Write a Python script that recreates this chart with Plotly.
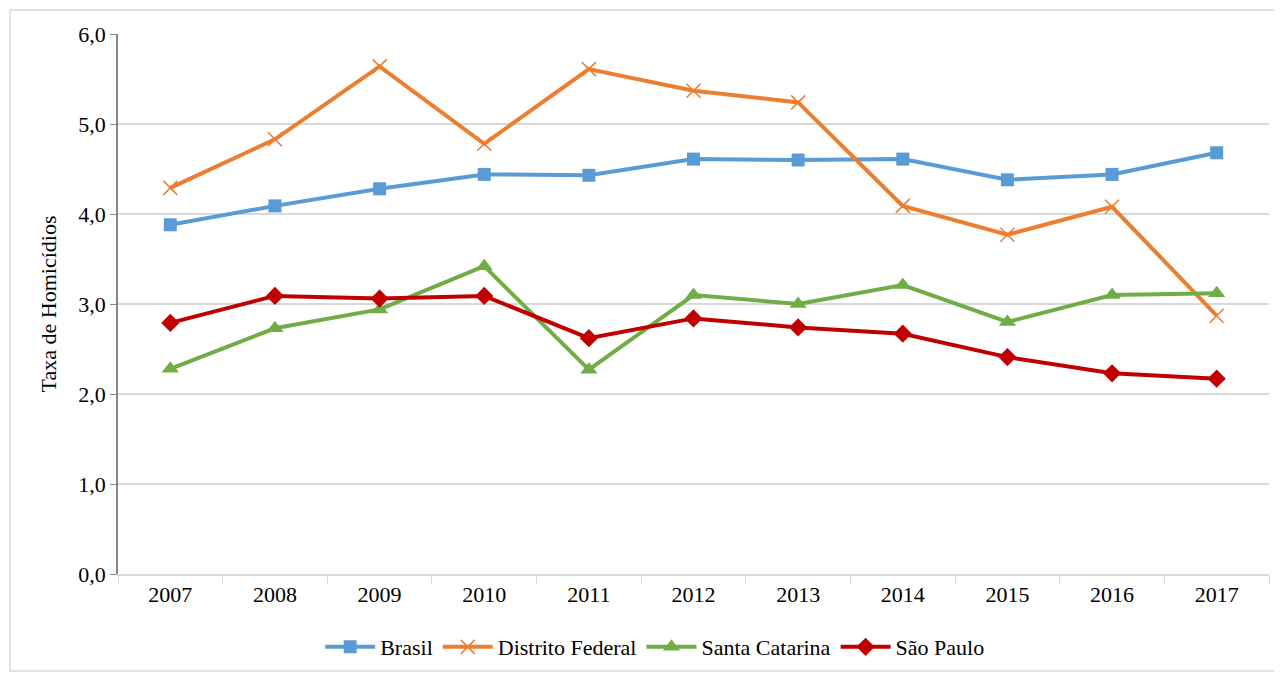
import plotly.graph_objects as go

years = ["2007", "2008", "2009", "2010", "2011", "2012", "2013", "2014", "2015", "2016", "2017"]
brasil = [3.88, 4.09, 4.28, 4.44, 4.43, 4.61, 4.60, 4.61, 4.38, 4.44, 4.68]
distrito_federal = [4.29, 4.83, 5.64, 4.78, 5.61, 5.37, 5.24, 4.09, 3.77, 4.08, 2.87]
santa_catarina = [2.28, 2.73, 2.94, 3.42, 2.27, 3.10, 3.00, 3.21, 2.80, 3.10, 3.12]
sao_paulo = [2.79, 3.09, 3.06, 3.09, 2.62, 2.84, 2.74, 2.67, 2.41, 2.23, 2.17]
y_ticks = [0, 1, 2, 3, 4, 5, 6]

FONT = "Liberation Serif"

fig = go.Figure()
fig.add_trace(go.Scatter(x=years, y=brasil, name="Brasil", mode="lines+markers",
                         line=dict(color="#5B9BD5", width=4),
                         marker=dict(symbol="square", size=13, color="#5B9BD5")))
fig.add_trace(go.Scatter(x=years, y=distrito_federal, name="Distrito Federal", mode="lines+markers",
                         line=dict(color="#ED7D31", width=4),
                         marker=dict(symbol="x-thin-open", size=14, color="#ED7D31",
                                     line=dict(color="#ED7D31", width=1.5))))
fig.add_trace(go.Scatter(x=years, y=santa_catarina, name="Santa Catarina", mode="lines+markers",
                         line=dict(color="#70AD47", width=4),
                         marker=dict(symbol="triangle-up", size=15, color="#70AD47")))
fig.add_trace(go.Scatter(x=years, y=sao_paulo, name="São Paulo", mode="lines+markers",
                         line=dict(color="#C00000", width=4),
                         marker=dict(symbol="diamond", size=14, color="#C00000")))

fig.update_layout(
    width=1274, height=665,
    margin=dict(l=110, r=13, t=26, b=99, autoexpand=False),
    paper_bgcolor="white", plot_bgcolor="white",
    separators=", ",
    font=dict(family=FONT, size=22, color="#000000"),
    showlegend=True,
    legend=dict(orientation="h", xref="container", yref="container",
                x=0.508, xanchor="center", y=0.039, yanchor="middle",
                font=dict(family=FONT, size=22), itemwidth=50, tracegroupgap=0),
    xaxis=dict(type="category", showgrid=False, showline=True, linecolor="#D9D9D9", linewidth=1.5,
               ticks="outside", tickson="boundaries", ticklen=8, tickcolor="#D9D9D9",
               tickfont=dict(family=FONT, size=22), range=[-0.5, 10.5]),
    yaxis=dict(range=[0, 6], tickvals=y_ticks, tickformat=".1f", showgrid=True, gridcolor="#D9D9D9",
               gridwidth=1.5, showline=True, linecolor="#868686", linewidth=1.5,
               ticks="outside", ticklen=6, tickcolor="#868686", zeroline=False,
               tickfont=dict(family=FONT, size=22),
               title=dict(text="Taxa de Homicídios", font=dict(family=FONT, size=22), standoff=16)),
    shapes=[dict(type="rect", xref="paper", yref="paper",
                 x0=-0.0938, x1=1.0096, y0=-0.1796, y1=1.0444,
                 line=dict(color="#D9D9D9", width=1.5), fillcolor="rgba(0,0,0,0)", layer="below")],
)

fig.write_html("out.html")
